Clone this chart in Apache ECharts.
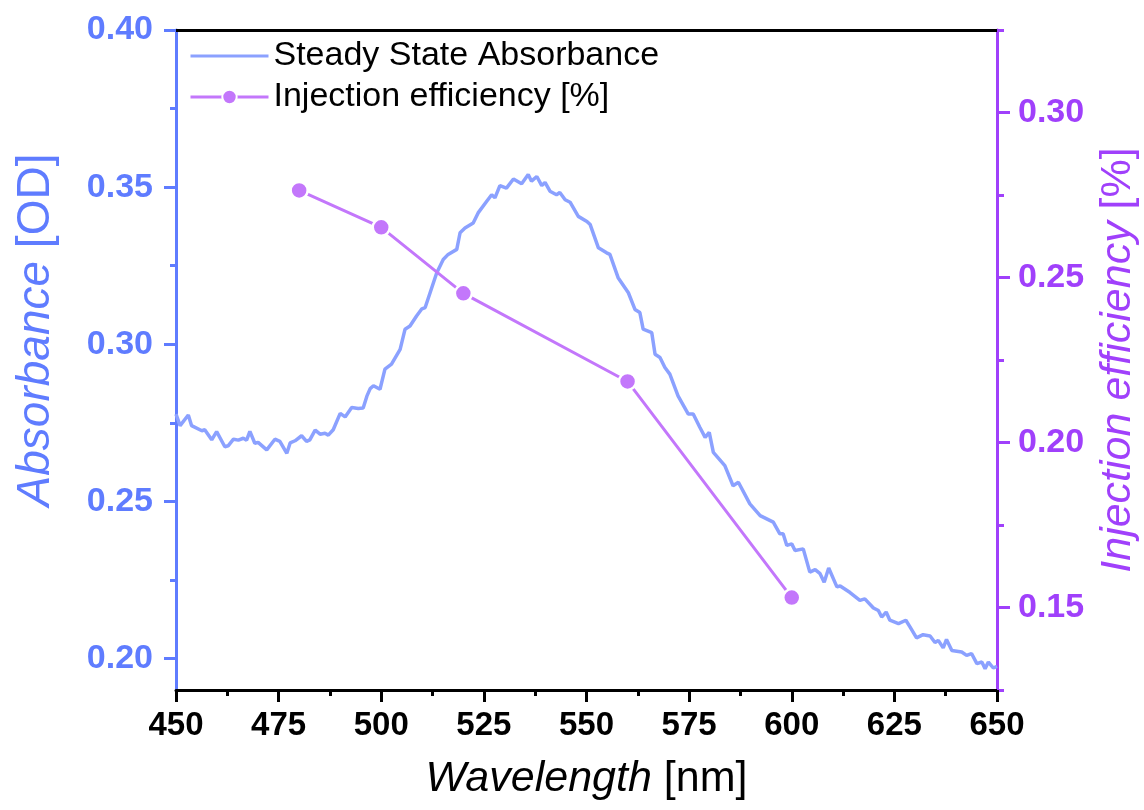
<!DOCTYPE html>
<html>
<head>
<meta charset="utf-8">
<script src="https://cdn.jsdelivr.net/npm/echarts@6/dist/echarts.min.js"></script>
<style>
html,body{margin:0;padding:0;background:#fff;}
#chart{width:1144px;height:810px;}
</style>
</head>
<body>
<div id="chart"></div>
<script>
// ---- data ----
const wavelength = [450,451,453,453.8,456.3,457,458.7,459.9,461.9,462.7,464,465.2,466.4,467.2,468,469.2,470,472.1,474.1,475.3,477,477.8,479,480.6,481.8,482.6,483.9,485.1,486.3,487.1,488.3,490,491.2,492.8,494.4,495.6,496.5,497.3,498.1,499.7,500.9,502.5,504.6,505.8,507,508.6,509.9,510.7,511.9,513.5,515.1,516.3,518.4,519.2,520.4,522.4,523.6,525.7,526.9,527.7,528.9,530.5,532.2,534.2,535.8,536.6,537.9,539.1,539.9,541.1,542.7,543.5,544.8,546,548,550.1,550.9,552.9,554.9,555.7,557.7,560.2,561.8,563,563.8,565.9,566.7,567.9,569.1,570.3,572.3,574.8,576,577.6,578.9,579.9,580.9,583.7,585.7,587,589.8,592.3,595.5,597.1,597.9,598.8,600,600.8,602.8,604.4,605.7,606.9,607.9,609,611,611.8,614.2,616.6,617.8,619.9,621.1,621.9,623,623.9,626,627.8,628.8,630.4,632,633.7,634.9,635.7,636.9,637.7,639,641.4,642.6,643.8,645.1,646.3,647.1,647.9,649.1,650];
const absorbance = [0.2778,0.2741,0.2775,0.2741,0.2725,0.2728,0.2696,0.2722,0.2674,0.2677,0.2698,0.2695,0.2701,0.2695,0.2723,0.2685,0.2688,0.2664,0.2698,0.2691,0.2653,0.2686,0.2693,0.2709,0.2691,0.2696,0.2727,0.2714,0.2717,0.2711,0.2728,0.2780,0.2769,0.2799,0.2796,0.2797,0.2835,0.2859,0.2868,0.2857,0.2921,0.2937,0.2984,0.3048,0.3058,0.3090,0.3113,0.3117,0.3164,0.3227,0.3270,0.3286,0.3302,0.3355,0.3370,0.3386,0.3418,0.3455,0.3476,0.3466,0.3505,0.3497,0.3526,0.3511,0.3540,0.3519,0.3534,0.3505,0.3515,0.3487,0.3476,0.3483,0.3460,0.3452,0.3407,0.3391,0.3381,0.3307,0.3291,0.3286,0.3212,0.3164,0.3111,0.3101,0.3048,0.3037,0.2968,0.2958,0.2926,0.2905,0.2836,0.2778,0.2778,0.2736,0.2704,0.2720,0.2656,0.2614,0.2550,0.2561,0.2492,0.2455,0.2434,0.2397,0.2397,0.2360,0.2365,0.2344,0.2349,0.2275,0.2283,0.2270,0.2243,0.2288,0.2228,0.2231,0.2210,0.2185,0.2190,0.2161,0.2153,0.2132,0.2148,0.2122,0.2111,0.2122,0.2101,0.2066,0.2076,0.2072,0.2051,0.2058,0.2034,0.2061,0.2026,0.2021,0.2010,0.2016,0.1984,0.1989,0.1968,0.1989,0.1970,0.1975];
const injWavelength = [480,500,520,560,600];
const injEfficiency = [0.2764,0.2652,0.2452,0.2185,0.153];
const leftTicks = [0.20,0.25,0.30,0.35,0.40];
const leftMinorTicks = [0.225,0.275,0.325,0.375];
const rightTicks = [0.15,0.20,0.25,0.30];
const rightMinorTicks = [0.125,0.175,0.225,0.275,0.325];
const seriesNames = ['Steady State Absorbance','Injection efficiency [%]'];

// ---- styles ----
const FONT = 'Liberation Sans, Arial, sans-serif';
const BLUE_AXIS = '#5f7cff';
const BLUE_LINE = '#8ba1ff';
const PURPLE_AXIS = '#a040fb';
const PURPLE_LINE = '#c377fb';

const absData = wavelength.map((w,i)=>[w,absorbance[i]]);
const injData = injWavelength.map((w,i)=>[w,injEfficiency[i]]);

const chart = echarts.init(document.getElementById('chart'), null, {renderer:'canvas'});

function yAx(opts){
  return Object.assign({type:'value', splitLine:{show:false}}, opts);
}

const option = {
  backgroundColor:'#ffffff',
  animation:false,
  grid:{left:176,right:147,top:30,bottom:120,containLabel:false,outerBoundsMode:'none'},
  legend:{
    data:[
      {name:seriesNames[0], itemStyle:{color:'rgba(0,0,0,0)',borderWidth:0,opacity:0}, lineStyle:{width:3}},
      {name:seriesNames[1], lineStyle:{width:3}}
    ],
    orient:'vertical',
    left:184, top:34,
    itemWidth:78, itemHeight:18, itemGap:7,
    textStyle:{fontFamily:FONT,fontSize:34,color:'#000'},
    selectedMode:false
  },
  xAxis:[{
    type:'value', min:450, max:650, interval:25,
    name:'{i|Wavelength }{n|[nm]}',
    nameLocation:'middle', nameGap:68,
    nameTextStyle:{rich:{
      i:{fontFamily:FONT,fontSize:43,fontStyle:'italic',color:'#000'},
      n:{fontFamily:FONT,fontSize:43,color:'#000'}
    }},
    axisLine:{show:true,onZero:false,lineStyle:{color:'#000',width:3}},
    axisTick:{show:true,inside:false,length:12,lineStyle:{color:'#000',width:3}},
    minorTick:{show:true,splitNumber:2,length:6,lineStyle:{color:'#000',width:3}},
    axisLabel:{fontFamily:FONT,fontSize:33,fontWeight:'bold',color:'#000',margin:19},
    splitLine:{show:false}
  },{
    type:'value', min:450, max:650, position:'top',
    axisLine:{show:true,onZero:false,lineStyle:{color:'#000',width:3}},
    axisTick:{show:false}, axisLabel:{show:false}, splitLine:{show:false}
  }],
  yAxis:[
    yAx({
      min:0.19, max:0.40, position:'left',
      name:'{i|Absorbance }{n|[OD]}',
      nameLocation:'middle', nameRotate:90, nameGap:117,
      nameTextStyle:{padding:[0,0,0,60],rich:{
        i:{fontFamily:FONT,fontSize:46,fontStyle:'italic',color:BLUE_AXIS},
        n:{fontFamily:FONT,fontSize:46,color:BLUE_AXIS}
      }},
      axisLine:{show:true,onZero:false,lineStyle:{color:BLUE_AXIS,width:3}},
      axisTick:{show:true,length:12,customValues:leftTicks,lineStyle:{color:BLUE_AXIS,width:3}},
      axisLabel:{customValues:leftTicks,fontFamily:FONT,fontSize:34,fontWeight:'bold',color:BLUE_AXIS,margin:23,
        formatter:v=>v.toFixed(2)}
    }),
    yAx({
      min:0.125, max:0.325, position:'right',
      name:'{i|Injection efficiency }{n|[%]}',
      nameLocation:'middle', nameRotate:90, nameGap:100,
      nameTextStyle:{rich:{
        i:{fontFamily:FONT,fontSize:43,fontStyle:'italic',color:PURPLE_AXIS},
        n:{fontFamily:FONT,fontSize:43,color:PURPLE_AXIS}
      }},
      axisLine:{show:true,onZero:false,lineStyle:{color:PURPLE_AXIS,width:3}},
      axisTick:{show:true,length:13,customValues:rightTicks,lineStyle:{color:PURPLE_AXIS,width:3}},
      axisLabel:{customValues:rightTicks,fontFamily:FONT,fontSize:34,fontWeight:'bold',color:PURPLE_AXIS,margin:21,
        formatter:v=>v.toFixed(2)}
    }),
    yAx({
      min:0.19, max:0.40, position:'left',
      axisLine:{show:false},
      axisTick:{show:true,length:6,customValues:leftMinorTicks,lineStyle:{color:BLUE_AXIS,width:3}},
      axisLabel:{show:false}
    }),
    yAx({
      min:0.125, max:0.325, position:'right',
      axisLine:{show:false},
      axisTick:{show:true,length:7,customValues:rightMinorTicks,lineStyle:{color:PURPLE_AXIS,width:3}},
      axisLabel:{show:false}
    })
  ],
  series:[{
    name:seriesNames[0], type:'line', xAxisIndex:0, yAxisIndex:0,
    data:absData, symbol:'none', showSymbol:false,
    lineStyle:{color:BLUE_LINE,width:3.5}, itemStyle:{color:BLUE_LINE},
    z:2
  },{
    name:seriesNames[1], type:'line', xAxisIndex:0, yAxisIndex:1,
    data:injData, symbol:'circle', symbolSize:17,
    lineStyle:{color:PURPLE_LINE,width:3},
    itemStyle:{color:PURPLE_LINE,borderColor:'#fff',borderWidth:2.5},
    z:3
  }]
};
chart.setOption(option);
</script>
</body>
</html>
